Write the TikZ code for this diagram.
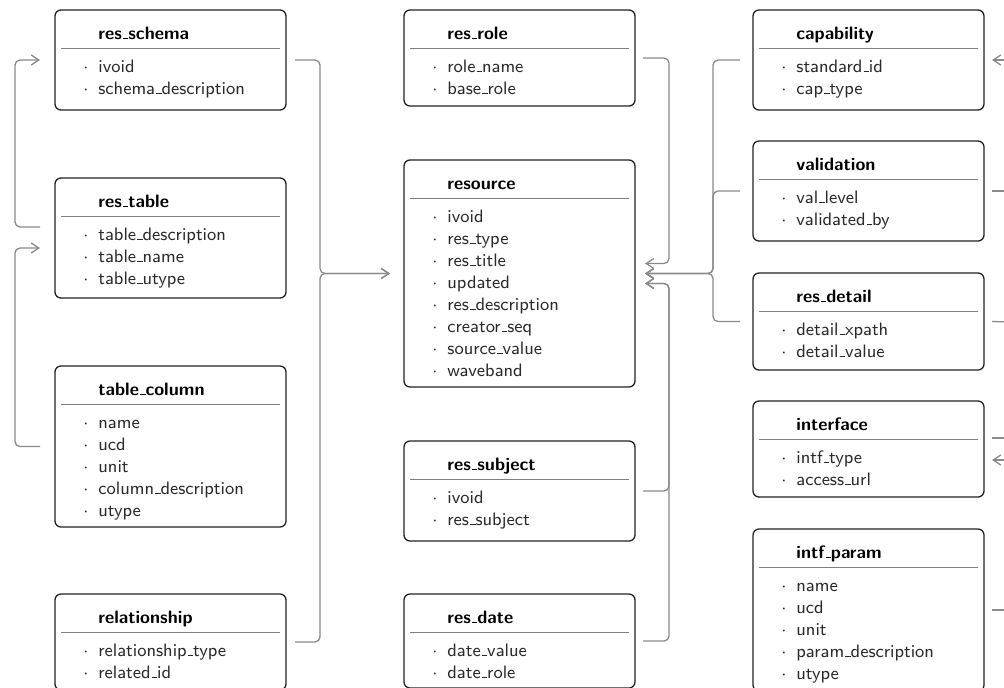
\documentclass[tikz,border=0pt]{standalone}
\usetikzlibrary{arrows.meta,calc}
\definecolor{boxline}{HTML}{222222}
\definecolor{divcol}{HTML}{808080}
\definecolor{conncol}{HTML}{8A8A8A}
\definecolor{txt}{HTML}{2A2A2A}
\newcommand{\us}{\leavevmode\kern.06em\vbox{\hrule width.3em height.45pt}}
\tikzset{
 tbox/.style={draw=boxline, line width=0.65pt, rounded corners=3pt, minimum width=115.5pt, inner sep=0pt, outer sep=0pt, fill=white},
 ttl/.style={anchor=base west, inner sep=0pt, font=\sffamily\small\bfseries, text=black},
 itm/.style={anchor=base west, inner sep=0pt, font=\sffamily\small, text=txt},
 divider/.style={draw=divcol, line width=0.5pt},
 conn/.style={draw=conncol, line width=0.65pt, rounded corners=2.5pt, -{Straight Barb[length=3.8pt,width=5pt]}},
 plainconn/.style={draw=conncol, line width=0.65pt, rounded corners=2.5pt}
}
\newcommand{\dbtbl}[6]{%
  \node[tbox, minimum height=#4*0.5pt, anchor=north west] (#1) at (#2,#3) {};
  \node[ttl] (#1-title) at ($(#1.north west)+(43,29)$) {#5};
  \draw[divider] ($(#1.north west)+(6,38)$) -- ($(#1.north east)+(-6,38)$);
  \foreach \fld [count=\k] in {#6} {
    \node[itm] (#1-dot\k) at ($(#1.north west)+(28,{62+22*(\k-1)})$) {$\cdot$};
    \node[itm] (#1-f\k) at ($(#1.north west)+(43,{62+22*(\k-1)})$) {\fld};
  }
}
\begin{document}
\begin{tikzpicture}[x=0.5pt,y=-0.5pt]
\useasboundingbox (0,0) rectangle (1004,687);
\clip (0,0) rectangle (1004,687);
% left column
\dbtbl{rschema}{55}{10}{100}{res\us schema}{ivoid,schema\us description}
\dbtbl{rtable}{55}{178}{120}{res\us table}{table\us description,table\us name,table\us utype}
\dbtbl{tcol}{55}{366}{161}{table\us column}{name,ucd,unit,column\us description,utype}
\dbtbl{rel}{55}{594}{96}{relationship}{relationship\us type,related\us id}
% center column
\dbtbl{rrole}{404}{10}{96}{res\us role}{role\us name,base\us role}
\dbtbl{resource}{404}{160}{227}{resource}{ivoid,res\us type,res\us title,updated,res\us description,creator\us seq,source\us value,waveband}
\dbtbl{rsubj}{404}{441}{100}{res\us subject}{ivoid,res\us subject}
\dbtbl{rdate}{404}{594}{94}{res\us date}{date\us value,date\us role}
% right column
\dbtbl{cap}{753}{10}{100}{capability}{standard\us id,cap\us type}
\dbtbl{valid}{753}{141}{100}{validation}{val\us level,validated\us by}
\dbtbl{rdetail}{753}{273}{97}{res\us detail}{detail\us xpath,detail\us value}
\dbtbl{intf}{753}{401}{96}{interface}{intf\us type,access\us url}
\dbtbl{iparam}{753}{529}{162}{intf\us param}{name,ucd,unit,param\us description,utype}
% left connectors
\draw[conn] ($(rtable.west)+(-15,-11)$) -- ++(-25,0) |- ($(rschema.west)+(-15,0)$);
\draw[conn] ($(tcol.west)+(-15,0)$) -- ++(-25,0) |- ($(rtable.west)+(-15,10)$);
% into resource from left
\draw[conn] ($(rschema.east)+(9,0)$) -- ++(25,0) |- ($(resource.west)+(-14,0)$);
\draw[conn] ($(rel.east)+(9,0)$) -- ++(25,0) |- ($(resource.west)+(-14,0)$);
% into resource from right
\draw[conn] ($(rrole.east)+(8,0)$) -- ++(26,0) |- ($(resource.east)+(10,-10)$);
\draw[conn] ($(rsubj.east)+(8,0)$) -- ++(26,0) |- ($(resource.east)+(10,10)$);
\draw[conn] ($(rdate.east)+(8,0)$) -- ++(26,0) |- ($(resource.east)+(10,10)$);
\draw[conn] ($(cap.west)+(-13,0)$) -- ++(-27,0) |- ($(resource.east)+(10,0)$);
\draw[conn] ($(valid.west)+(-13,0)$) -- ++(-27,0) |- ($(resource.east)+(10,0)$);
\draw[conn] ($(rdetail.west)+(-13,0)$) -- ++(-27,0) |- ($(resource.east)+(10,0)$);
% right edge, leaving the picture
\coordinate (capR) at (1012,60);
\coordinate (validR) at (1012,191);
\coordinate (detailR) at (1012,322);
\coordinate (intfRa) at (1012,438);
\coordinate (intfRb) at (1012,460);
\coordinate (iparamR) at (1012,610);
\draw[conn] (capR) -- ($(cap.east)+(8,0)$);
\draw[plainconn] ($(valid.east)+(8,0)$) -- (validR);
\draw[plainconn] ($(rdetail.east)+(8,0)$) -- (detailR);
\draw[plainconn] ($(intf.east)+(8,-11)$) -- (intfRa);
\draw[conn] (intfRb) -- ($(intf.east)+(8,11)$);
\draw[plainconn] ($(iparam.east)+(8,0)$) -- (iparamR);
\end{tikzpicture}
\end{document}
